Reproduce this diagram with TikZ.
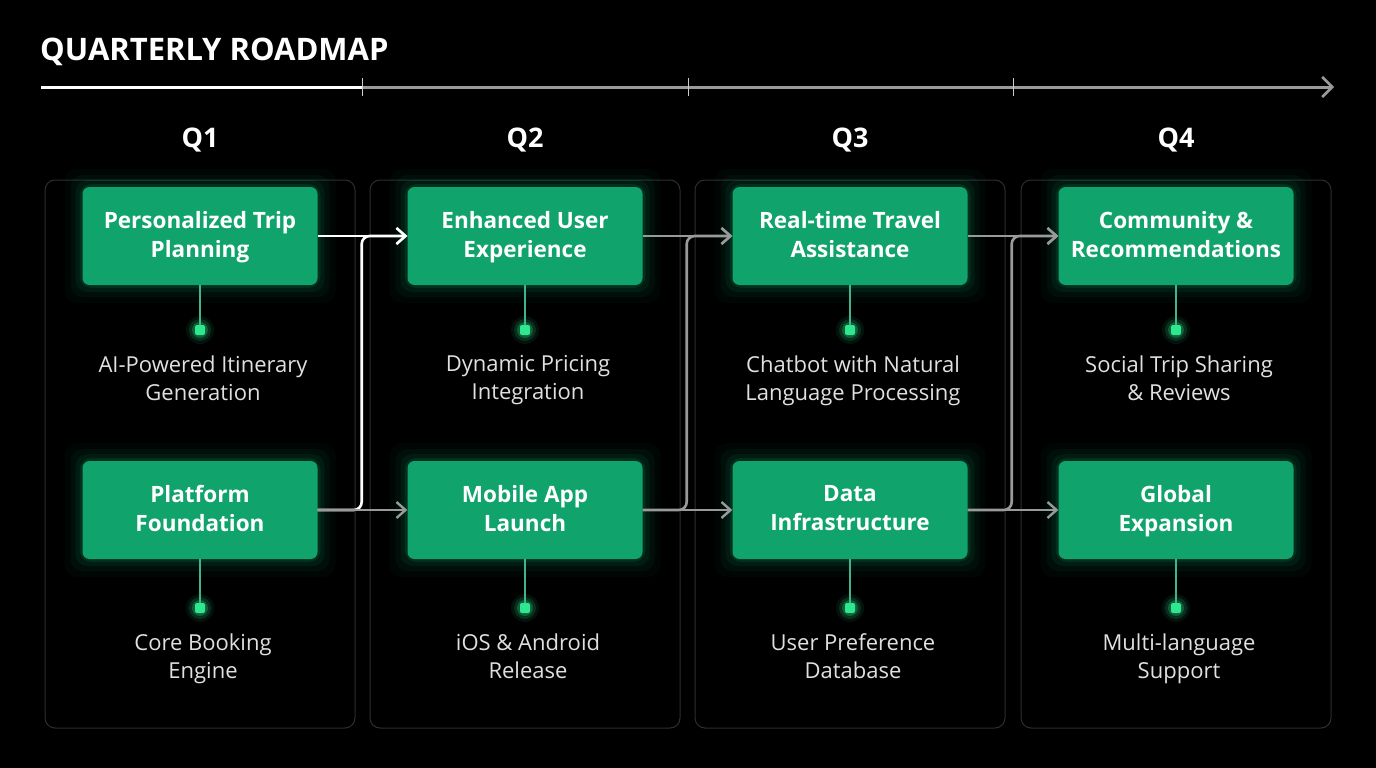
\documentclass[tikz,border=0pt]{standalone}
\usepackage{fontspec}
\setmainfont{Open Sans}
\usetikzlibrary{arrows.meta}
\definecolor{gbox}{HTML}{10A36C}
\definecolor{gdot}{HTML}{2EE88F}
\definecolor{panel}{HTML}{2E2E2E}
\definecolor{gline}{HTML}{9A9A9A}
\begin{document}
\begin{tikzpicture}[x=1pt,y=-1pt,
  box/.style={fill=gbox,rounded corners=7pt,minimum width=235pt,minimum height=98pt,align=center,text=white,font=\fontsize{22.5}{29}\selectfont\bfseries,inner sep=0pt},
  boxt/.style={align=center,text=white,font=\fontsize{22.5}{29}\selectfont\bfseries,inner sep=0pt},
  sub/.style={align=center,text=white!88!black,font=\fontsize{22}{28}\selectfont},
  qlab/.style={text=white,font=\fontsize{27}{30}\selectfont\bfseries},
  dot/.style={fill=gdot,rounded corners=2pt,minimum size=10pt,inner sep=0pt},
  stem/.style={draw=gbox!80!white,line width=2pt},
  conn/.style={line width=2.6pt,rounded corners=8pt,-{Straight Barb[length=9pt,width=16pt,line width=2.4pt]}},
  pan/.style={draw=panel,line width=1pt,rounded corners=10pt}]
\fill[black] (0,0) rectangle (1376,768);
\useasboundingbox (0,0) rectangle (1376,768);
\node[anchor=west,text=white,font=\fontsize{31}{34}\selectfont\bfseries,inner sep=0pt] (title) at (40,52) {QUARTERLY ROADMAP};
\coordinate (t0) at (41,87); \coordinate (t1) at (362,87); \coordinate (t2) at (688,87);
\coordinate (t3) at (1013,87); \coordinate (t4) at (1334,87);
\draw[white,line width=3pt] (t0) -- (t1);
\draw[gline,line width=3pt,-{Straight Barb[length=10pt,width=20pt,line width=2.5pt]}] (t1) -- (t4);
\foreach \c in {t1,t2,t3} \draw[white!80!black,line width=0.8pt] ([yshift=-9pt]\c) -- ([yshift=9pt]\c);
\foreach \i/\x/\q in {1/200/Q1,2/525/Q2,3/850/Q3,4/1176/Q4}{
  \draw[pan] (\x-155,180) rectangle (\x+155,728);
  \node[qlab] (q\i) at (\x,140) {\q};
}
\foreach \n/\x/\y/\t in {a1/200/236/{Personalized Trip\\Planning},a2/200/510/{Platform\\Foundation},
 b1/525/236/{Enhanced User\\Experience},b2/525/510/{Mobile App\\Launch},
 c1/850/236/{Real-time Travel\\Assistance},c2/850/510/{Data\\Infrastructure},
 d1/1176/236/{Community \&\\Recommendations},d2/1176/510/{Global\\Expansion}}{
  \foreach \k/\o in {18/0.04,12/0.06,7/0.09,3/0.14}
    \fill[gbox,opacity=\o,rounded corners=12pt] (\x-117.5-\k,\y-49-\k) rectangle (\x+117.5+\k,\y+49+\k);
  \node[box] (\n) at (\x,\y) {};
  \node[boxt] (\n t) at (\x,\y+1) {\vphantom{Ag}\t\vphantom{Ag}};
}
\foreach \n/\x/\y/\t in {a1/200/330/{AI-Powered Itinerary\\Generation},a2/200/608/{Core Booking\\Engine},
 b1/525/330/{Dynamic Pricing\\Integration},b2/525/608/{iOS \& Android\\Release},
 c1/850/330/{Chatbot with Natural\\Language Processing},c2/850/608/{User Preference\\Database},
 d1/1176/330/{Social Trip Sharing\\\& Reviews},d2/1176/608/{Multi-language\\Support}}{
  \foreach \k/\o in {9/0.08,6/0.14,3/0.25} \fill[gdot,opacity=\o] (\x,\y) circle (5+\k);
  \node[dot] (m\n) at (\x,\y) {};
  \draw[stem] (\n.south) -- (m\n.north);
  \node[sub,anchor=north] (s\n) at (\x+3,\y+22) {\vphantom{Ag}\t};
}
\draw[conn,white] (a1.east) -- (b1.west);
\draw[conn,white] (a2.east) -- ++(44,0) |- (b1.west);
\draw[conn,gline] (a2.east) -- (b2.west);
\draw[conn,gline] (b1.east) -- (c1.west);
\draw[conn,gline] (b2.east) -- ++(44,0) |- (c1.west);
\draw[conn,gline] (b2.east) -- (c2.west);
\draw[conn,gline] (c1.east) -- (d1.west);
\draw[conn,gline] (c2.east) -- ++(44,0) |- (d1.west);
\draw[conn,gline] (c2.east) -- (d2.west);
\end{tikzpicture}
\end{document}
